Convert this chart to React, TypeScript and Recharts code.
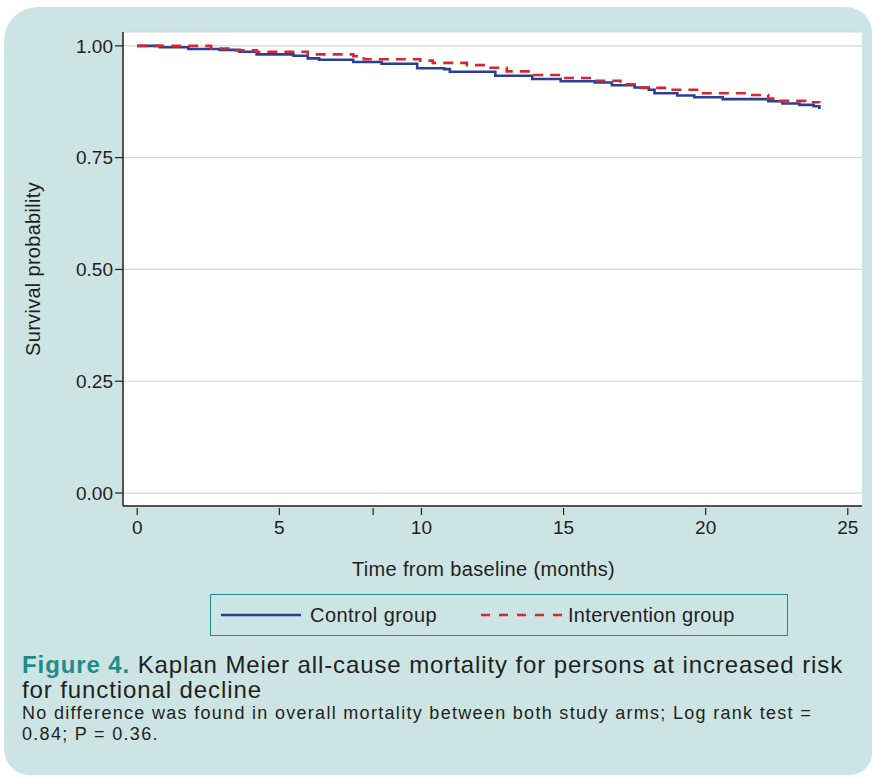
import React from 'react';
import { LineChart, Line, XAxis, YAxis, CartesianGrid, Label } from 'recharts';

// Kaplan Meier step values (months, survival)
const controlTimes = [0, 0.8, 1.8, 2.9, 3.6, 4.2, 5.5, 6.0, 6.4, 7.6, 8.6, 9.85, 10.8, 11.0, 12.6, 13.9, 14.9, 16.1, 16.7, 17.5, 18.0, 18.2, 19.0, 19.6, 20.6, 22.2, 22.7, 23.3, 23.8, 24.0];
const controlSurv = [1.0, 0.997, 0.993, 0.991, 0.987, 0.981, 0.978, 0.972, 0.969, 0.964, 0.96, 0.95, 0.948, 0.942, 0.933, 0.926, 0.921, 0.918, 0.912, 0.907, 0.902, 0.894, 0.889, 0.885, 0.881, 0.876, 0.871, 0.868, 0.865, 0.859];

const interventionTimes = [0, 2.6, 3.3, 4.2, 6.0, 7.6, 7.97, 9.96, 10.4, 11.6, 12.3, 13.0, 13.9, 15.0, 16.0, 17.0, 17.6, 18.7, 19.7, 21.5, 22.2, 22.6, 23.5, 24.0];
const interventionSurv = [1.0, 0.994, 0.99, 0.987, 0.981, 0.977, 0.97, 0.967, 0.962, 0.957, 0.951, 0.943, 0.935, 0.928, 0.922, 0.914, 0.906, 0.902, 0.894, 0.89, 0.882, 0.877, 0.874, 0.873];

const xTicks = [0, 5, 8.3, 10, 15, 20, 25];
const xTickLabels = ['0', '5', '', '10', '15', '20', '25'];
const yTicks = [0, 0.25, 0.5, 0.75, 1];

const controlData = controlTimes.map((t, i) => ({ t, s: controlSurv[i] }));
const interventionData = interventionTimes.map((t, i) => ({ t, s: interventionSurv[i] }));

const FONT = '"Liberation Sans", Arial, Helvetica, sans-serif';
const INK = '#231f20';
const BLUE = '#2a3f96';
const RED = '#d7262f';
const TEAL = '#1e8c8a';

const XTick = (props: any) => {
  const { x, y, payload } = props;
  const idx = xTicks.indexOf(payload.value);
  const label = idx >= 0 ? xTickLabels[idx] : '';
  return (
    <g>
      <line x1={x} x2={x} y1={y + 2} y2={y + 9} stroke={INK} strokeWidth={1.2} />
      {label && (
        <text x={x} y={y + 28} textAnchor="middle" fontSize={19} fill={INK} fontFamily={FONT}>
          {label}
        </text>
      )}
    </g>
  );
};

export default function App() {
  return (
    <div style={{ position: 'absolute', left: 0, top: 0, width: 874, height: 776, background: '#fff', fontFamily: FONT }}>
      <div
        style={{
          position: 'absolute', left: 4, top: 7, width: 868, height: 768,
          background: '#cde4e4', borderRadius: '34px 26px 22px 26px',
        }}
      />
      <div style={{ position: 'absolute', left: 0, top: 0 }}>
        <LineChart width={874} height={590} margin={{ top: 32, right: 12, left: 23, bottom: 0 }}>
          <CartesianGrid fill="#fff" vertical={false} stroke="#d6d6d6" strokeWidth={1.2} />
          <XAxis
            type="number"
            dataKey="t"
            domain={[-0.5, 25.5]}
            ticks={xTicks}
            allowDataOverflow
            height={84}
            tickSize={0}
            tickMargin={0}
            tickLine={false}
            axisLine={{ stroke: INK, strokeWidth: 1.5 }}
            tick={<XTick />}
          >
            <Label
              value="Time from baseline (months)"
              position="insideTop"
              offset={56}
              dx={-9}
              style={{ fontSize: 20, fill: INK, fontFamily: FONT, letterSpacing: '0.35px' }}
            />
          </XAxis>
          <YAxis
            type="number"
            domain={[-0.029, 1.031]}
            ticks={yTicks}
            allowDataOverflow
            width={100}
            tickSize={8}
            tickMargin={2}
            tickFormatter={(v: number) => v.toFixed(2)}
            tick={{ fontSize: 19, fill: INK, fontFamily: FONT }}
            tickLine={{ stroke: INK, strokeWidth: 1.2 }}
            axisLine={{ stroke: INK, strokeWidth: 1.5 }}
          >
            <Label
              value="Survival probability"
              angle={-90}
              position="insideLeft"
              offset={10}
              style={{ fontSize: 20, fill: INK, fontFamily: FONT, textAnchor: 'middle', letterSpacing: '0.3px' }}
            />
          </YAxis>
          <Line
            data={controlData}
            dataKey="s"
            type="stepAfter"
            stroke={BLUE}
            strokeWidth={2.6}
            dot={false}
            isAnimationActive={false}
          />
          <Line
            data={interventionData}
            dataKey="s"
            type="stepAfter"
            stroke={RED}
            strokeWidth={2.6}
            strokeDasharray="10 7"
            dot={false}
            isAnimationActive={false}
          />
        </LineChart>
      </div>

      {/* legend */}
      <div
        style={{
          position: 'absolute', left: 210, top: 594, width: 576, height: 40,
          border: `1.5px solid ${TEAL}`, color: INK, fontSize: 20,
        }}
      >
        <svg width={576} height={40} style={{ position: 'absolute', left: 0, top: 0 }}>
          <line x1={10} x2={90} y1={20} y2={20} stroke={BLUE} strokeWidth={2.6} />
          <text x={99} y={27} fontSize={20} fill={INK} fontFamily={FONT} style={{ letterSpacing: '0.45px' }}>Control group</text>
          <line x1={270} x2={353} y1={20} y2={20} stroke={RED} strokeWidth={2.6} strokeDasharray="9 9" />
          <text x={357} y={27} fontSize={20} fill={INK} fontFamily={FONT} style={{ letterSpacing: '0.3px' }}>Intervention group</text>
        </svg>
      </div>

      {/* caption */}
      <div style={{ position: 'absolute', left: 22, top: 652, color: INK, whiteSpace: 'nowrap' }}>
        <div style={{ fontSize: 24, lineHeight: '25px', letterSpacing: '0.9px' }}>
          <span style={{ color: TEAL, fontWeight: 'bold' }}>Figure 4.</span> Kaplan Meier all-cause mortality for persons at increased risk
          <br />
          for functional decline
        </div>
        <div style={{ fontSize: 18, lineHeight: '21px', marginTop: 1, letterSpacing: '1.3px' }}>
          No difference was found in overall mortality between both study arms; Log rank test =
          <br />
          0.84; P = 0.36.
        </div>
      </div>
    </div>
  );
}
